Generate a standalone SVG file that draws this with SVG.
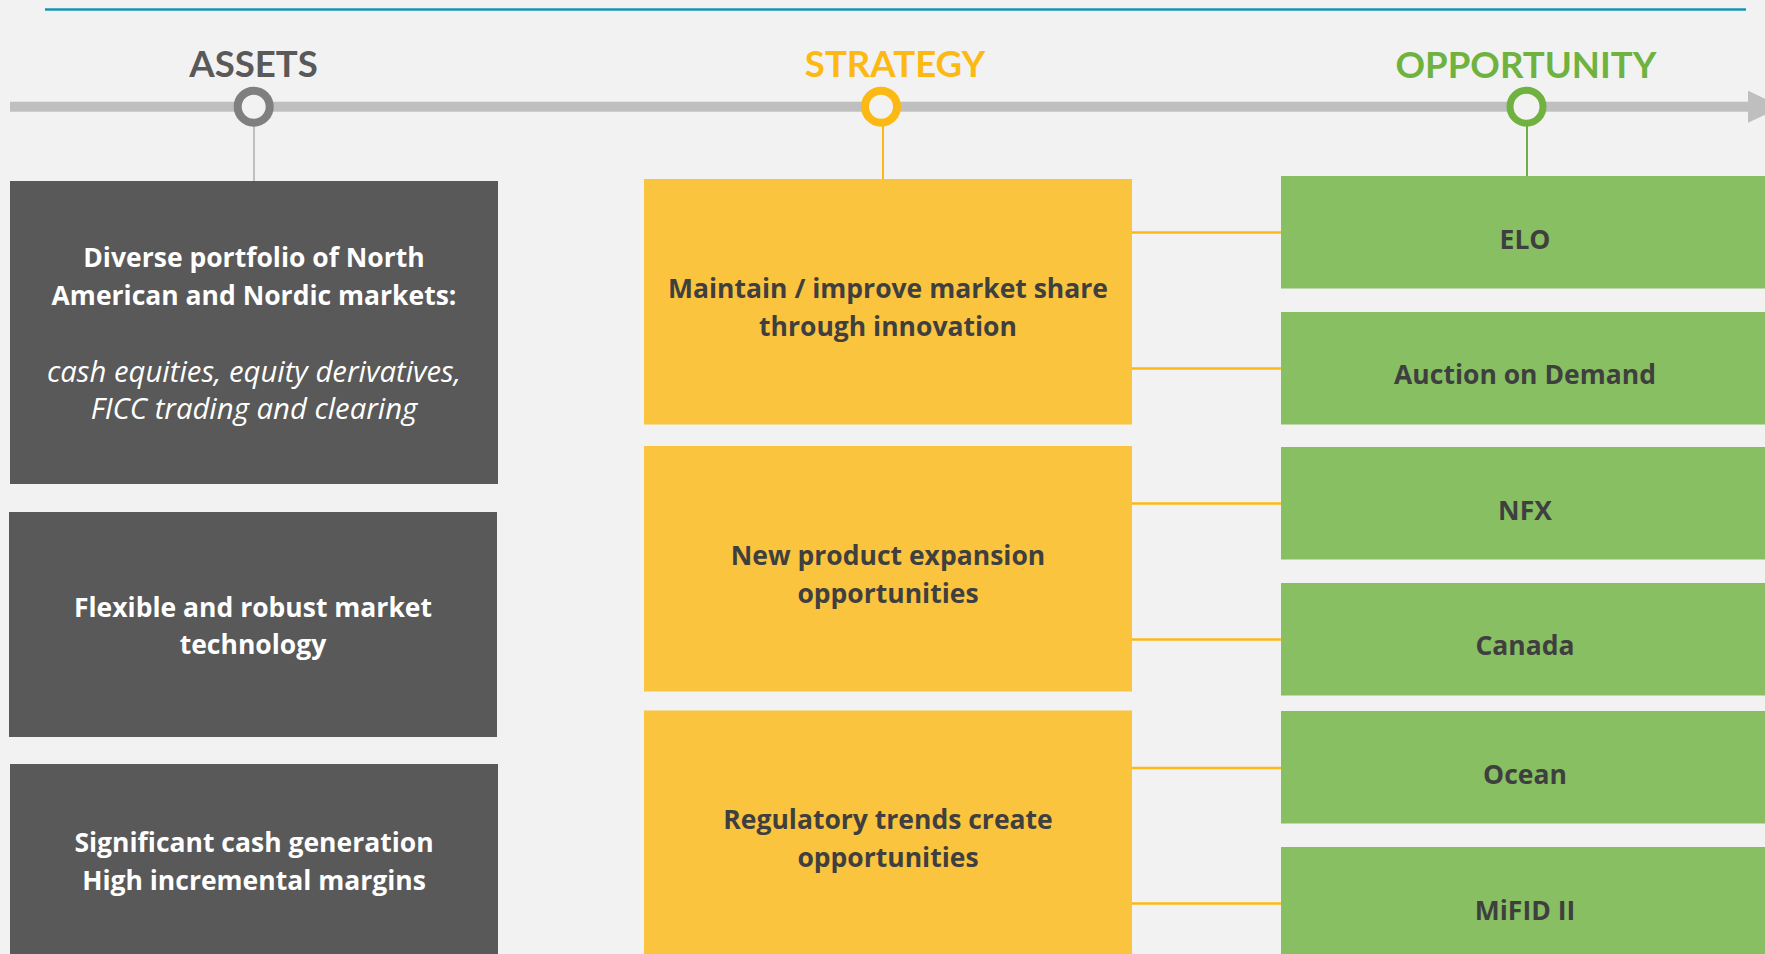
<svg xmlns="http://www.w3.org/2000/svg" width="1765" height="954" viewBox="0 0 1765 954">
<style>
.t{font-family:"Open Sans","Noto Sans","Liberation Sans",sans-serif;font-weight:700;font-size:26.5px;text-anchor:middle}
.w{fill:#FFFFFF}
.d{fill:#3F3F3F}
.i{font-style:italic;font-weight:400;font-size:29.3px}
.h{font-family:Lato,"Open Sans","Liberation Sans",sans-serif;font-weight:700;font-size:36.6px;text-anchor:middle}
.ga{fill:#595959}
.gy{fill:#FAC43E}
.gg{fill:#87BF62}
.ring{fill:#F2F2F2;stroke-width:8}
.con{stroke:#FDB913;stroke-width:2.5;fill:none}
</style>
<rect x="0" y="0" width="1765" height="954" fill="#F2F2F2"/>
<line x1="45" y1="9.5" x2="1746" y2="9.5" stroke="#1596B3" stroke-width="2.5"/>
<g id="timeline">
<rect x="10" y="101.7" width="1740" height="10" fill="#BFBFBF"/>
<polygon points="1748,90.7 1782,107 1748,122.7" fill="#BFBFBF"/>
</g>
<g id="connectors">
<line x1="254" y1="124" x2="254" y2="181" stroke="#BFBFBF" stroke-width="2"/>
<line x1="883" y1="124" x2="883" y2="179" stroke="#FDB913" stroke-width="2"/>
<line x1="1527" y1="124" x2="1527" y2="177" stroke="#70AD47" stroke-width="2"/>
<line class="con" x1="1132" y1="232.5" x2="1281" y2="232.5"/>
<line class="con" x1="1132" y1="368.5" x2="1281" y2="368.5"/>
<line class="con" x1="1132" y1="503.5" x2="1281" y2="503.5"/>
<line class="con" x1="1132" y1="639.5" x2="1281" y2="639.5"/>
<line class="con" x1="1132" y1="768" x2="1281" y2="768"/>
<line class="con" x1="1132" y1="903.5" x2="1281" y2="903.5"/>
</g>
<g id="assets-head">
<text class="h" x="253.5" y="76.7" fill="#595959">ASSETS</text>
<circle class="ring" cx="253.7" cy="106.7" r="16" stroke="#7F7F7F"/>
</g>
<g id="strategy-head">
<text class="h" x="895" y="76.7" fill="#FDB913">STRATEGY</text>
<circle class="ring" cx="881" cy="106.7" r="16" stroke="#FDB913"/>
</g>
<g id="opportunity-head">
<text class="h" x="1526" y="77.7" fill="#6FB23F">OPPORTUNITY</text>
<circle class="ring" cx="1526.5" cy="106.7" r="16.5" stroke="#6FB23F" style="stroke-width:7"/>
</g>
<g id="asset1">
<rect class="ga" x="10" y="181" width="488" height="303"/>
<text class="t w" x="254" y="266.7">Diverse portfolio of North</text>
<text class="t w" x="254" y="305">American and Nordic markets:</text>
<text class="t w i" x="254" y="381.7">cash equities, equity derivatives,</text>
<text class="t w i" x="254" y="419">FICC trading and clearing</text>
</g>
<g id="asset2">
<rect class="ga" x="9" y="512" width="488" height="225"/>
<text class="t w" x="253" y="616.7">Flexible and robust market</text>
<text class="t w" x="253" y="654.3">technology</text>
</g>
<g id="asset3">
<rect class="ga" x="10" y="764" width="488" height="195"/>
<text class="t w" x="254" y="852.3">Significant cash generation</text>
<text class="t w" x="254" y="890">High incremental margins</text>
</g>
<g id="strategy1">
<rect class="gy" x="644" y="179" width="488" height="245.5"/>
<text class="t d" x="888" y="298.3">Maintain / improve market share</text>
<text class="t d" x="888" y="336">through innovation</text>
</g>
<g id="strategy2">
<rect class="gy" x="644" y="446" width="488" height="245.5"/>
<text class="t d" x="888" y="565">New product expansion</text>
<text class="t d" x="888" y="603.3">opportunities</text>
</g>
<g id="strategy3">
<rect class="gy" x="644" y="710.5" width="488" height="250"/>
<text class="t d" x="888" y="829.3">Regulatory trends create</text>
<text class="t d" x="888" y="867.3">opportunities</text>
</g>
<g id="opp-elo">
<rect class="gg" x="1281" y="176" width="490" height="112.5"/>
<text class="t d" x="1525" y="249">ELO</text>
</g>
<g id="opp-aod">
<rect class="gg" x="1281" y="312" width="490" height="112.5"/>
<text class="t d" x="1525" y="384">Auction on Demand</text>
</g>
<g id="opp-nfx">
<rect class="gg" x="1281" y="447" width="490" height="112.5"/>
<text class="t d" x="1525" y="520">NFX</text>
</g>
<g id="opp-canada">
<rect class="gg" x="1281" y="583" width="490" height="112.5"/>
<text class="t d" x="1525" y="655">Canada</text>
</g>
<g id="opp-ocean">
<rect class="gg" x="1281" y="711" width="490" height="112.5"/>
<text class="t d" x="1525" y="784.3">Ocean</text>
</g>
<g id="opp-mifid">
<rect class="gg" x="1281" y="847" width="490" height="112"/>
<text class="t d" x="1525" y="920">MiFID II</text>
</g>
</svg>
